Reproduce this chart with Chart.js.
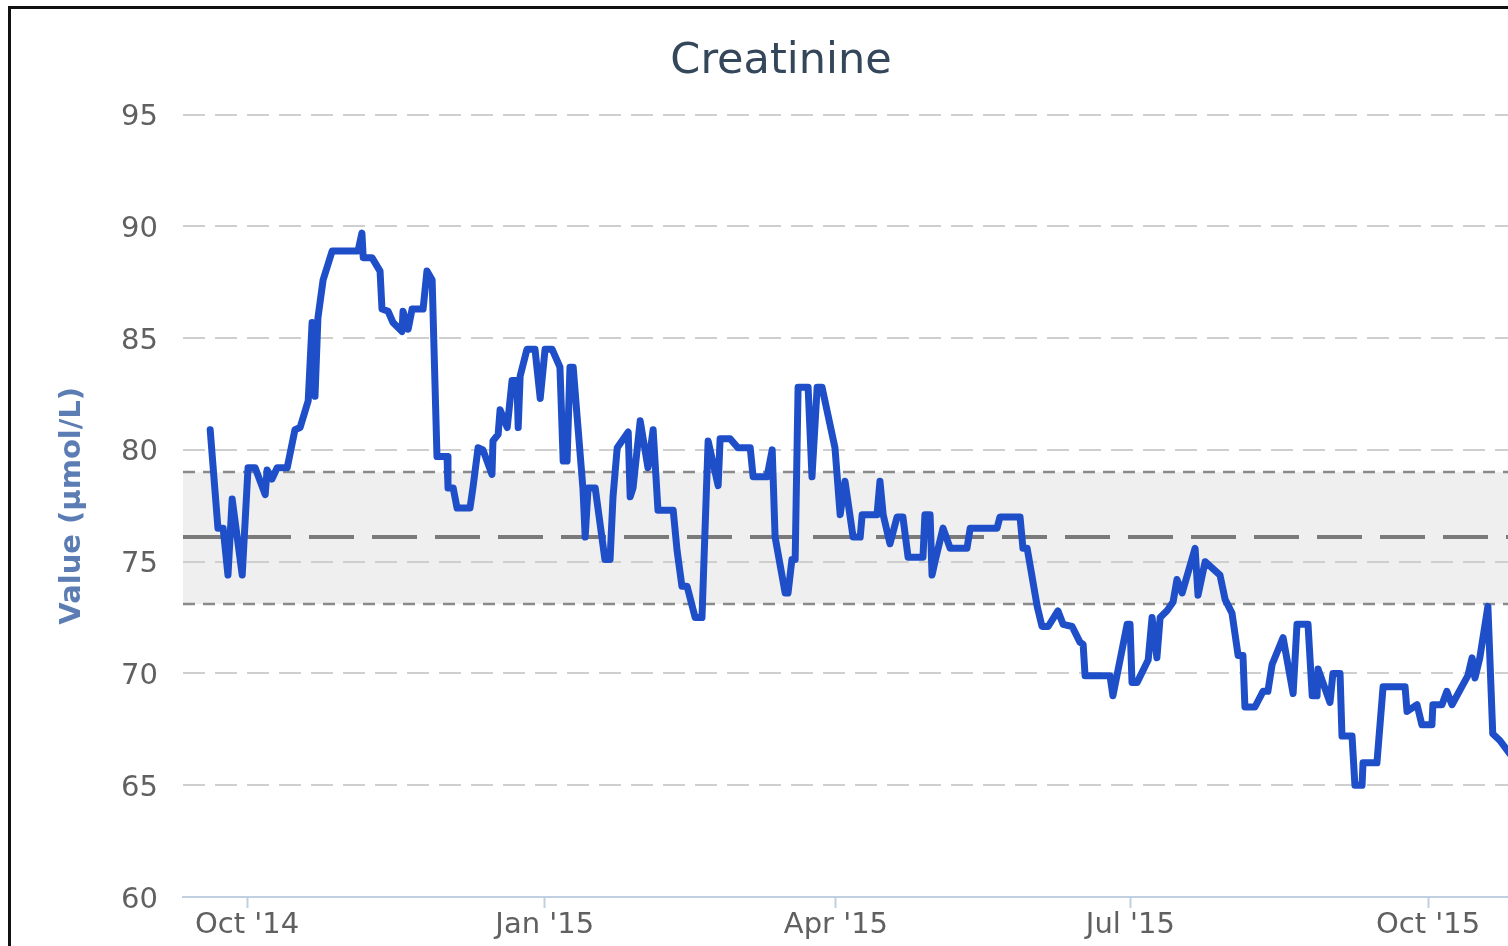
<!DOCTYPE html>
<html>
<head>
<meta charset="utf-8">
<script src="https://cdn.jsdelivr.net/npm/chart.js@4.4.1/dist/chart.umd.min.js"></script>
<style>
    html, body { margin: 0; padding: 0; background: #fff; overflow: hidden; width: 1508px; height: 946px; }
    #frame { position: absolute; left: 8px; top: 6px; width: 1600px; height: 1000px; border-left: 3px solid #111; border-top: 3px solid #111; }
    #chart { position: absolute; left: 11px; top: 9px; }
</style>
</head>
<body>
<div id="frame"></div>
<canvas id="chart" width="1540" height="948"></canvas>
<script>
// Días desde el 1 oct 2014 y valores de creatinina (µmol/L)
const days = [
    -11.4, -9.0, -7.4, -5.9, -4.6, -1.5, 0.3, 2.5, 5.6, 6.2, 7.7, 9.3, 12.4, 14.8, 16.4, 18.9,
    20.1, 21.0, 21.9, 23.5, 26.3, 34.3, 35.5, 35.9, 38.6, 41.1, 41.7, 43.6, 45.1, 47.9, 48.2, 49.8,
    51.0, 54.4, 55.6, 57.2, 58.7, 61.8, 62.1, 63.7, 64.9, 68.9, 69.8, 71.4, 72.9, 75.7, 76.0, 77.6,
    78.2, 80.4, 81.9, 83.4, 83.8, 84.4, 86.5, 89.0, 90.6, 92.1, 94.3, 96.7, 97.7, 98.9, 99.8, 100.8,
    102.0, 103.8, 104.5, 105.4, 107.6, 110.6, 112.2, 113.1, 114.4, 117.8, 118.4, 119.3, 121.5, 123.9, 125.5, 127.0,
    131.7, 132.9, 134.4, 136.0, 138.5, 140.6, 142.5, 145.6, 146.2, 149.3, 151.7, 155.5, 156.4, 160.7, 162.3, 163.2,
    166.3, 167.2, 168.4, 169.4, 170.3, 173.4, 174.6, 176.2, 177.7, 181.7, 183.3, 184.8, 187.3, 189.5, 190.1, 194.7,
    195.6, 196.6, 198.7, 200.9, 202.7, 204.3, 208.9, 209.5, 211.1, 211.7, 212.6, 215.1, 217.3, 222.5, 223.5, 231.8,
    232.7, 238.9, 239.8, 241.1, 244.2, 245.7, 247.6, 250.6, 252.2, 255.0, 257.4, 258.4, 259.0, 266.7, 267.6, 272.0,
    272.9, 273.5, 275.1, 278.5, 279.7, 281.2, 282.2, 284.3, 286.2, 287.4, 289.0, 293.0, 293.9, 296.1, 300.7, 302.3,
    304.4, 306.3, 307.8, 308.4, 311.5, 314.0, 315.5, 316.8, 320.2, 323.3, 324.5, 327.9, 329.2, 330.7, 331.0, 334.7,
    335.6, 337.8, 338.4, 341.5, 342.4, 344.6, 344.9, 349.2, 351.1, 357.9, 358.5, 361.6, 363.1, 366.2, 366.5, 369.3,
    370.8, 372.4, 377.3, 378.6, 379.5, 381.0, 383.5, 385.0, 387.2, 390.3
];
const values = [
    80.9, 76.5, 76.5, 74.4, 77.8, 74.4, 79.2, 79.2, 78.0, 79.1, 78.7, 79.2, 79.2, 80.9, 81.0, 82.2,
    85.7, 82.4, 85.9, 87.6, 88.9, 88.9, 89.7, 88.6, 88.6, 88.0, 86.3, 86.2, 85.7, 85.3, 86.2, 85.4,
    86.3, 86.3, 88.0, 87.6, 79.7, 79.7, 78.3, 78.3, 77.4, 77.4, 78.3, 80.1, 80.0, 78.9, 80.4, 80.7,
    81.8, 81.0, 83.1, 83.1, 81.0, 83.3, 84.5, 84.5, 82.3, 84.5, 84.5, 83.7, 79.5, 79.5, 83.7, 83.7,
    81.5, 78.3, 76.1, 78.3, 78.3, 75.1, 75.1, 77.9, 80.1, 80.8, 77.9, 78.3, 81.3, 79.2, 80.9, 77.3,
    77.3, 75.5, 73.9, 73.9, 72.5, 72.5, 80.4, 78.4, 80.5, 80.5, 80.1, 80.1, 78.8, 78.8, 80.0, 76.1,
    73.6, 73.6, 75.1, 75.1, 82.8, 82.8, 78.8, 82.8, 82.8, 80.1, 77.1, 78.6, 76.1, 76.1, 77.1, 77.1,
    78.6, 77.1, 75.8, 77.0, 77.0, 75.2, 75.2, 77.1, 77.1, 74.4, 75.0, 76.5, 75.6, 75.6, 76.5, 76.5,
    77.0, 77.0, 75.6, 75.6, 73.0, 72.1, 72.1, 72.8, 72.2, 72.1, 71.4, 71.3, 69.9, 69.9, 69.0, 72.2,
    72.2, 69.6, 69.6, 70.6, 72.5, 70.7, 72.5, 72.8, 73.2, 74.2, 73.6, 75.6, 73.5, 75.0, 74.4, 73.3,
    72.7, 70.8, 70.8, 68.5, 68.5, 69.2, 69.2, 70.4, 71.6, 69.1, 72.2, 72.2, 69.0, 69.0, 70.2, 68.7,
    70.0, 70.0, 67.2, 67.2, 65.0, 65.0, 66.0, 66.0, 69.4, 69.4, 68.3, 68.6, 67.7, 67.7, 68.6, 68.6,
    69.2, 68.6, 69.9, 70.7, 69.8, 70.7, 73.0, 67.3, 67.0, 66.4
];

// Rango de referencia y media
const refRange = [73.1, 79];
const refMean = 76.1;

// Ejes
const tickDays = [0, 92, 182, 273, 365];
const tickLabels = ["Oct '14", "Jan '15", "Apr '15", "Jul '15", "Oct '15"];
const yTicks = [60, 65, 70, 75, 80, 85, 90, 95];
const xMin = -19.8, xMax = 403.0;

const points = days.map((d, i) => ({ x: d, y: values[i] }));

// Banda gris y líneas de referencia
const refBand = {
    id: 'refBand',
    beforeDraw(chart) {
        const { ctx, chartArea, scales } = chart;
        const yTop = scales.y.getPixelForValue(refRange[1]);
        const yBot = scales.y.getPixelForValue(refRange[0]);
        ctx.save();
        ctx.fillStyle = '#efefef';
        ctx.fillRect(chartArea.left, yTop, chartArea.right - chartArea.left, yBot - yTop);
        ctx.restore();
    },
    beforeDatasetsDraw(chart) {
        const { ctx, chartArea, scales } = chart;
        function hline(v, dash, color, width) {
            const y = Math.round(scales.y.getPixelForValue(v));
            ctx.save();
            ctx.beginPath();
            ctx.setLineDash(dash);
            ctx.strokeStyle = color;
            ctx.lineWidth = width;
            ctx.moveTo(chartArea.left, y);
            ctx.lineTo(chartArea.right, y);
            ctx.stroke();
            ctx.restore();
        }
        hline(refRange[1], [12, 8], '#8a8a8a', 2.5);
        hline(refRange[0], [12, 8], '#8a8a8a', 2.5);
        hline(refMean, [45, 18], '#7a7a7a', 4);
    }
};

const ctx = document.getElementById('chart').getContext('2d');
new Chart(ctx, {
    type: 'line',
    data: {
        datasets: [{
            label: 'Creatinine',
            data: points,
            borderColor: '#1f4fc8',
            borderWidth: 7,
            pointRadius: 0,
            tension: 0,
            borderJoinStyle: 'round',
            borderCapStyle: 'round',
            fill: false
        }]
    },
    options: {
        responsive: false,
        animation: false,
        layout: { padding: 0 },
        plugins: {
            legend: { display: false },
            tooltip: { enabled: false },
            title: {
                display: true,
                text: 'Creatinine',
                color: '#34465a',
                font: { family: 'DejaVu Sans', size: 43, weight: 'normal' },
                padding: { top: 27, bottom: 27 }
            }
        },
        scales: {
            x: {
                type: 'linear',
                min: xMin,
                max: xMax,
                afterBuildTicks: function(scale) {
                    scale.ticks = tickDays.map(v => ({ value: v }));
                },
                afterFit: function(scale) {
                    scale.height = 60;
                },
                grid: {
                    drawOnChartArea: false,
                    drawTicks: true,
                    tickLength: 11,
                    tickColor: '#c0d0e0',
                    tickWidth: 2
                },
                border: { display: true, color: '#c0d0e0', width: 2 },
                ticks: {
                    autoSkip: false,
                    maxRotation: 0,
                    padding: 0,
                    color: '#606060',
                    font: { family: 'DejaVu Sans', size: 29 },
                    callback: function(value) {
                        const i = tickDays.indexOf(value);
                        return i >= 0 ? tickLabels[i] : '';
                    }
                }
            },
            y: {
                min: 60,
                max: 95,
                afterBuildTicks: function(scale) {
                    scale.ticks = yTicks.map(v => ({ value: v }));
                },
                afterFit: function(scale) {
                    scale.width = 172;
                },
                grid: {
                    drawTicks: false,
                    lineWidth: 2,
                    color: function(c) {
                        return c.tick && c.tick.value === 60 ? 'rgba(0,0,0,0)' : '#cfcfcf';
                    }
                },
                border: { display: false, dash: [22, 10] },
                ticks: {
                    padding: 25,
                    labelOffset: 3,
                    color: '#606060',
                    font: { family: 'DejaVu Sans', size: 29 }
                },
                title: {
                    display: true,
                    text: 'Value (μmol/L)',
                    color: '#5b7db3',
                    font: { family: 'DejaVu Sans', size: 29, weight: 'bold' },
                    padding: { top: 44, bottom: 0 }
                }
            }
        }
    },
    plugins: [refBand]
});
</script>
</body>
</html>
